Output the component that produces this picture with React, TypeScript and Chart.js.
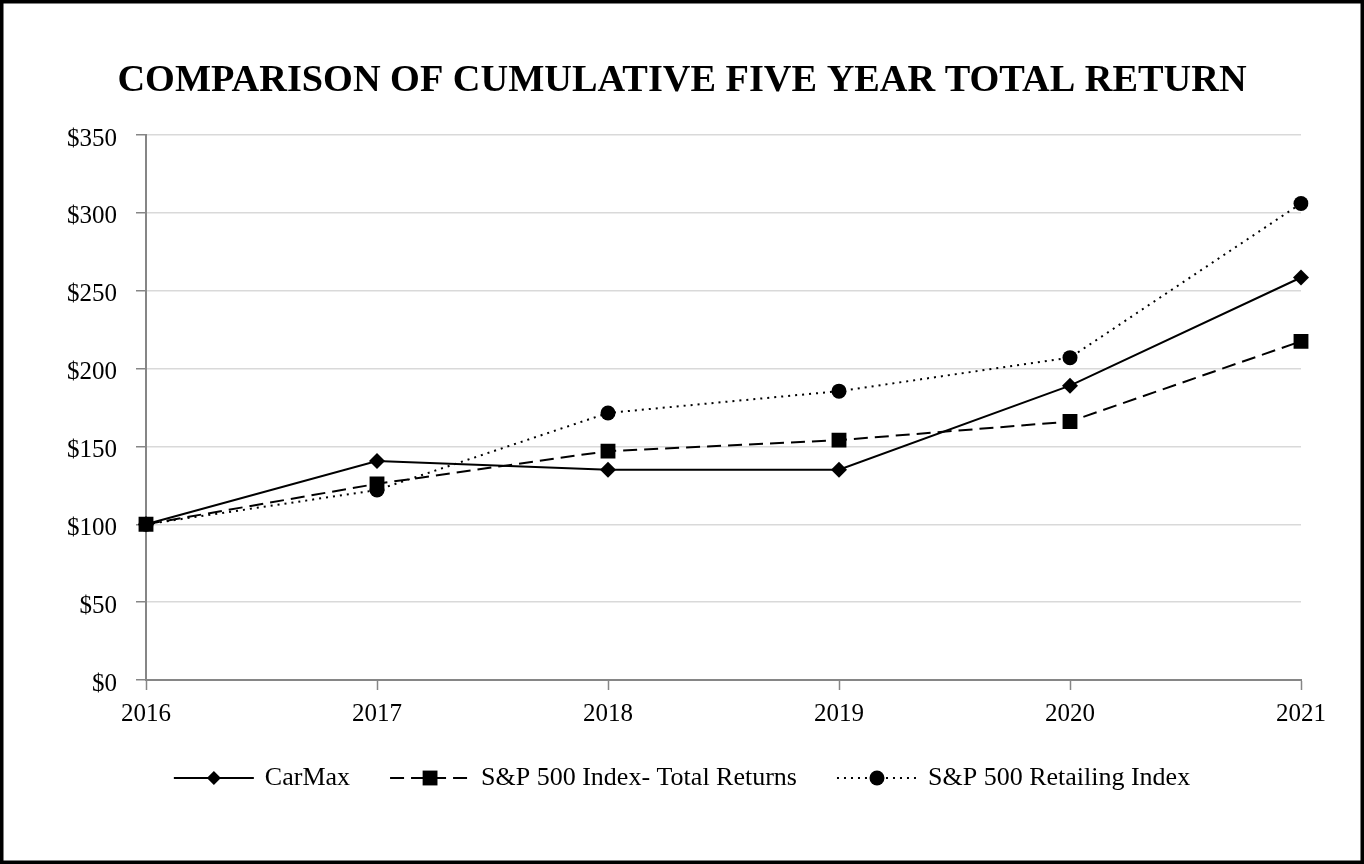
import React, { useEffect, useRef } from "react";
import { Chart, registerables } from "chart.js";

Chart.register(...registerables);

const years = ["2016", "2017", "2018", "2019", "2020", "2021"];
const carmax = [100, 140.6, 135, 135, 189, 258.5];
const sp500Total = [100, 126, 147, 154, 166, 217.5];
const sp500Retailing = [100, 122, 171.5, 185.5, 207, 306];
const yTicks = [0, 50, 100, 150, 200, 250, 300, 350];

const TITLE = "COMPARISON OF CUMULATIVE FIVE YEAR TOTAL RETURN";
const SERIF = '"Liberation Serif", "Times New Roman", serif';

function drawMarker(ctx: CanvasRenderingContext2D, style: string, r: number, x: number, y: number) {
  ctx.save();
  ctx.setLineDash([]);
  ctx.fillStyle = "#000";
  ctx.beginPath();
  if (style === "rectRot") {
    ctx.moveTo(x, y - r);
    ctx.lineTo(x + r, y);
    ctx.lineTo(x, y + r);
    ctx.lineTo(x - r, y);
    ctx.closePath();
  } else if (style === "rect") {
    const s = r * Math.SQRT1_2;
    ctx.rect(x - s, y - s, 2 * s, 2 * s);
  } else {
    ctx.arc(x, y, r, 0, Math.PI * 2);
  }
  ctx.fill();
  ctx.restore();
}

const decorPlugin = {
  id: "decor",
  afterDraw(chart: any) {
    const ctx: CanvasRenderingContext2D = chart.ctx;
    ctx.save();
    // frame
    ctx.strokeStyle = "#000";
    ctx.lineWidth = 3.5;
    ctx.strokeRect(1.75, 1.75, chart.width - 3.5, chart.height - 3.5);
    // title
    ctx.fillStyle = "#000";
    ctx.font = `bold 38.3px ${SERIF}`;
    ctx.textAlign = "center";
    ctx.textBaseline = "middle";
    ctx.fillText(TITLE, chart.width / 2, 81);
    // legend
    ctx.font = `26px ${SERIF}`;
    ctx.textAlign = "left";
    const lineLen = 80;
    const textGap = 11;
    const itemGap = 40;
    const ds = chart.data.datasets;
    const widths = ds.map((d: any) => lineLen + textGap + ctx.measureText(d.label).width);
    const total = widths.reduce((a: number, b: number) => a + b, 0) + itemGap * (ds.length - 1);
    let x = chart.width / 2 - total / 2;
    const y = 778;
    ds.forEach((d: any, i: number) => {
      ctx.save();
      ctx.strokeStyle = d.borderColor;
      ctx.lineWidth = d.borderWidth;
      ctx.setLineDash(d.borderDash || []);
      ctx.beginPath();
      ctx.moveTo(x, y);
      ctx.lineTo(x + lineLen, y);
      ctx.stroke();
      ctx.restore();
      const mr = d.pointStyle === "rectRot" ? 7 : d.pointRadius;
      drawMarker(ctx, d.pointStyle, mr, x + lineLen / 2, y);
      ctx.fillStyle = "#000";
      ctx.textBaseline = "middle";
      ctx.fillText(d.label, x + lineLen + textGap, y);
      x += widths[i] + itemGap;
    });
    ctx.restore();
  },
};

export default function App() {
  const ref = useRef<HTMLCanvasElement | null>(null);

  useEffect(() => {
    if (!ref.current) return;
    const chart = new Chart(ref.current, {
      type: "line",
      data: {
        labels: years,
        datasets: [
          {
            label: "CarMax",
            data: carmax,
            borderColor: "#000",
            backgroundColor: "#000",
            borderWidth: 2,
            pointStyle: "rectRot",
            pointRadius: 8,
            pointBorderWidth: 0,
            tension: 0,
          },
          {
            label: "S&P 500 Index- Total Returns",
            data: sp500Total,
            borderColor: "#000",
            backgroundColor: "#000",
            borderWidth: 2,
            borderDash: [14, 7],
            pointStyle: "rect",
            pointRadius: 10.5,
            pointBorderWidth: 0,
            tension: 0,
          },
          {
            label: "S&P 500 Retailing Index",
            data: sp500Retailing,
            borderColor: "#000",
            backgroundColor: "#000",
            borderWidth: 2,
            borderDash: [2, 5],
            pointStyle: "circle",
            pointRadius: 7.5,
            pointBorderWidth: 0,
            tension: 0,
          },
        ],
      },
      options: {
        responsive: false,
        animation: false,
        layout: { padding: { top: 135, left: 0, right: 63, bottom: 124 } },
        plugins: {
          legend: { display: false },
          title: { display: false },
          tooltip: { enabled: false },
        },
        scales: {
          x: {
            type: "category",
            offset: false,
            grid: {
              drawOnChartArea: false,
              drawTicks: true,
              tickLength: 10,
              tickColor: "#868686",
              tickWidth: 1.5,
            },
            border: { color: "#868686", width: 2 },
            ticks: {
              color: "#000",
              font: { family: SERIF, size: 25 },
              padding: 9,
              maxRotation: 0,
            },
            afterFit: (s: any) => {
              s.height = 60;
            },
          },
          y: {
            min: 0,
            max: 350,
            afterBuildTicks: (s: any) => {
              s.ticks = yTicks.map((v) => ({ value: v }));
            },
            grid: {
              color: "#d9d9d9",
              lineWidth: 1.5,
              drawTicks: true,
              tickLength: 10,
              tickColor: "#868686",
              tickWidth: 1.5,
            },
            border: { color: "#868686", width: 2 },
            ticks: {
              color: "#000",
              font: { family: SERIF, size: 25 },
              padding: 19,
              labelOffset: 4,
              callback: (v: any) => "$" + v,
            },
            afterFit: (s: any) => {
              s.width = 146;
            },
          },
        },
      },
      plugins: [decorPlugin],
    });
    return () => chart.destroy();
  }, []);

  return (
    <div style={{ position: "fixed", left: 0, top: 0, width: 1364, height: 864, background: "#fff" }}>
      <canvas ref={ref} width={1364} height={864} style={{ display: "block" }} />
    </div>
  );
}
